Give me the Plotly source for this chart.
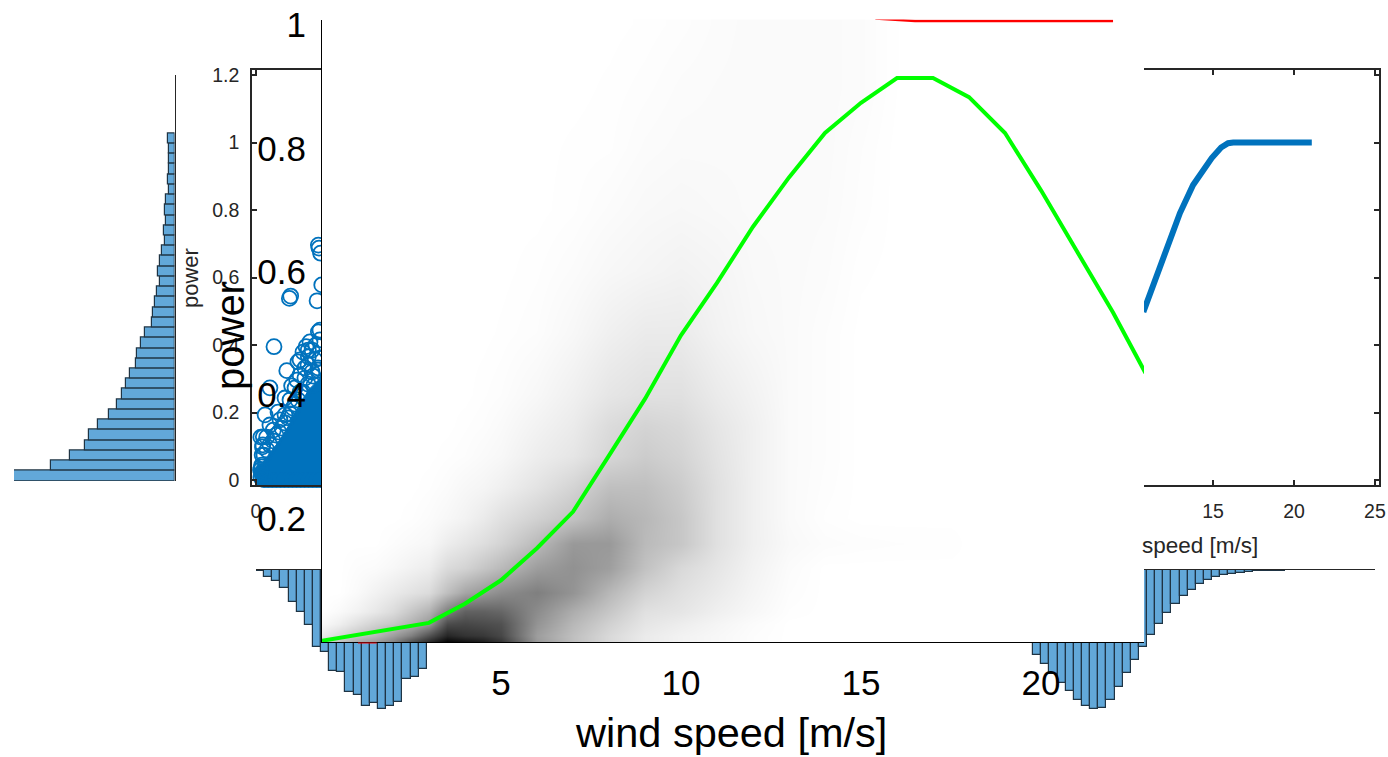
import plotly.graph_objects as go

W, H = 1388, 757
FONT = "Liberation Sans, Arial, sans-serif"
DARK = "#262626"
BLUE = "#0072BD"
BAR = "#62A8D9"
BAR_EDGE = "#1F3444"

# ---- data -----------------------------------------------------------------
green_speed = [0.03, 1, 2, 3, 4, 5, 6, 7, 8, 9, 10, 11, 12, 13, 14, 15, 16, 17, 18, 19, 20, 21, 22, 22.9]
green_power = [0.002, 0.011, 0.021, 0.031, 0.062, 0.1, 0.152, 0.211, 0.302, 0.394, 0.497, 0.582, 0.673, 0.753,
               0.825, 0.874, 0.914, 0.914, 0.883, 0.825, 0.732, 0.632, 0.534, 0.436]
red_speed = [15.4, 16.5, 22.0]
red_power = [1.0105, 1.0065, 1.0065]
red_low_speed = [1.03, 1.55]

heat_speed = [0, 0.5, 1, 1.5, 2, 2.5, 3, 3.5, 4, 4.5, 5, 6, 7, 8, 9, 10, 11, 12, 13, 14, 15, 16, 17.5, 18]
heat_power = [0, 0.01, 0.03, 0.05, 0.08, 0.12, 0.16, 0.2, 0.25, 0.3, 0.35, 0.4, 0.5, 0.6, 0.7, 0.8, 0.9, 1.0]
# darkness (percent), one list per wind speed, from low power to high power
heat_by_speed = [
    [18, 8, 2, 0, 0, 0, 0, 0, 0, 0, 0, 0, 0, 0, 0, 0, 0, 0],
    [25, 15, 6, 2, 0, 0, 0, 0, 0, 0, 0, 0, 0, 0, 0, 0, 0, 0],
    [35, 22, 12, 5, 2, 1, 0, 0, 0, 0, 0, 0, 0, 0, 0, 0, 0, 0],
    [40, 28, 18, 9, 5, 1.5, 0, 0, 0, 0, 0, 0, 0, 0, 0, 0, 0, 0],
    [50, 38, 22, 14, 8, 3, 1, 0, 0, 0, 0, 0, 0, 0, 0, 0, 0, 0],
    [70, 50, 30, 22, 11, 5, 2, 0.5, 0, 0, 0, 0, 0, 0, 0, 0, 0, 0],
    [85, 68, 40, 30, 14, 7, 3, 1.5, 0.5, 0, 0, 0, 0, 0, 0, 0, 0, 0],
    [100, 85, 70, 50, 25, 14, 7, 3, 1.5, 0.5, 0, 0, 0, 0, 0, 0, 0, 0],
    [95, 80, 72, 62, 35, 17, 10, 5, 3, 1, 0.5, 0, 0, 0, 0, 0, 0, 0],
    [90, 78, 70, 62, 40, 22, 13, 8, 4, 2, 1, 0.5, 0, 0, 0, 0, 0, 0],
    [80, 72, 68, 60, 45, 27, 17, 12, 6, 3, 2, 1, 0.3, 0, 0, 0, 0, 0],
    [40, 38, 42, 45, 50, 38, 27, 18, 11, 7, 5, 3, 1, 0.5, 0, 0, 0, 0],
    [25, 25, 28, 32, 42, 43, 40, 24, 17, 10, 8, 6, 3, 1.5, 0.5, 0.3, 0, 0],
    [15, 15, 18, 22, 28, 38, 40, 32, 25, 16, 14, 10, 6, 3, 1.5, 0.5, 0.3, 0],
    [8, 8, 10, 12, 17, 24, 27, 28, 25, 20, 17, 12, 8, 4, 2.5, 1.5, 0.8, 0.3],
    [5, 5, 7, 10, 12, 15, 22, 22, 20, 17, 15, 12, 8, 5, 3, 2, 1.5, 0.8],
    [3, 3, 4, 6, 8, 10, 12, 12, 12, 11, 10, 8, 5, 4, 2.5, 2, 1.8, 1.5],
    [1, 1, 1.5, 3, 4, 5, 6, 6, 6, 6, 6, 5, 3, 2.5, 2, 2, 2, 2],
    [0, 0, 0, 0.5, 1, 1.5, 2.5, 2, 2, 2, 2, 2, 2, 2, 2, 2, 2, 2],
    [0, 0, 0, 0, 0, 0, 1.2, 0.5, 0.8, 1, 1, 1, 1, 1.5, 1.8, 2, 2, 2],
    [0, 0, 0, 0, 0, 0, 0.8, 0, 0, 0, 0, 0, 0, 0.3, 0.8, 1, 1.5, 1.5],
    [0, 0, 0, 0, 0, 0, 0.6, 0, 0, 0, 0, 0, 0, 0, 0, 0, 0.2, 0.2],
    [0, 0, 0, 0, 0, 0, 0.5, 0, 0, 0, 0, 0, 0, 0, 0, 0, 0, 0],
    [0, 0, 0, 0, 0, 0, 0, 0, 0, 0, 0, 0, 0, 0, 0, 0, 0, 0],
]
heat_z = [list(row) for row in zip(*heat_by_speed)]

# blue power curve (right piece of the scatter axes)
curve_speed = [10.7, 12.14, 12.96, 13.77, 14.92, 15.5, 15.93, 16.25, 21.1]
curve_power = [0.498, 0.691, 0.791, 0.874, 0.954, 0.985, 0.998, 1.0, 1.0]

# scatter points, left piece
scatter_speed = [2.06, 2.14, 1.11, 3.77, 3.89, 3.99, 3.85, 3.09, 3.23, 2.9, 3.85, 3.95, 4.06, 4.12, 1.9, 2.51, 2.2,
                 3.02, 0.86, 0.56, 1.48, 0.45, 0.3, 0.66, 1.07, 1.79, 0.35, 0.35, 3.23, 3.64, 2.59, 3.46, 2.72, 3.33,
                 3.95, 0.86, 1.23, 1.6, 1.98, 2.28, 2.59, 2.9, 3.21, 3.52, 3.83, 0.49, 0.68, 1.05, 1.42, 1.79, 2.1,
                 2.41, 0.35, 0.3, 0.4, 0.28, 2.72, 3.46, 3.83, 3.02, 2.41, 1.79, 1.36, 0.86, 2.1, 3.58, 3.95, 3.7,
                 3.21, 2.72, 0.42, 0.38, 0.4]
scatter_power = [0.538, 0.545, 0.395, 0.531, 0.687, 0.672, 0.696, 0.395, 0.385, 0.379, 0.439, 0.444, 0.578, 0.484,
                 0.324, 0.296, 0.279, 0.332, 0.273, 0.193, 0.178, 0.128, 0.127, 0.127, 0.148, 0.193, 0.039, 0.044,
                 0.365, 0.356, 0.35, 0.32, 0.26, 0.409, 0.361, 0.104, 0.133, 0.154, 0.184, 0.213, 0.237, 0.26, 0.284,
                 0.308, 0.326, 0.074, 0.089, 0.116, 0.142, 0.169, 0.196, 0.225, 0.02, 0.008, 0.015, 0.03, 0.356,
                 0.385, 0.332, 0.302, 0.273, 0.243, 0.201, 0.163, 0.237, 0.281, 0.415, 0.4, 0.341, 0.311, 0.104,
                 0.074, 0.098]
cloud_speed = [0.0, 0.0, 0.1, 0.4, 0.7, 1.0, 1.5, 2.0, 2.4, 2.9, 3.3, 4.15, 4.15, 0.0]
cloud_power = [-0.015, 0.03, 0.05, 0.05, 0.07, 0.09, 0.12, 0.16, 0.2, 0.24, 0.27, 0.31, -0.015, -0.015]
floor_speed = [0.5, 0.75, 1, 1.25, 1.5, 1.75, 2, 2.25, 2.5, 2.75, 3, 3.25, 3.5, 3.75, 4]
floor_power = [0] * len(floor_speed)

# histogram of power (bar lengths, counts)
power_hist = [160.7, 123.7, 104.7, 90, 86, 76.3, 65.7, 57.7, 52.3, 49, 44.3, 38.3, 37.7, 34, 29.3, 23, 21.7, 19.7,
              18, 15, 16.7, 15, 12.7, 10, 10.3, 8.3, 9.7, 9, 5.3, 6.7, 5.7, 5.3, 6, 7]
POWER_BIN = 0.0302

# histograms of wind speed (bar lengths, counts)
speed_hist_left = [0.8, 6.7, 11, 18.3, 32.3, 42.3, 55.3, 77.3, 82.3, 100.7, 102.3, 122.3, 124.7, 136.3, 133.3, 138.7,
                   136, 132, 108.7, 107.3, 99.3, 72]
speed_hist_right = [84.7, 94.3, 104.3, 112.7, 120.7, 130.3, 136, 139, 137.7, 130, 117, 103.3, 90.3, 76.7, 65, 53.7,
                    43.3, 34.3, 26, 19.7, 14, 10, 7, 5.3, 4, 2.7, 2, 1.3, 1, 0.6, 0.5, 0.4, 0.3, 0.2, 0.1]
SPEED_BIN = 0.502
LEFT_START = 0.0
RIGHT_START = 3.9

main_xticks = [5, 10, 15, 20]
main_yticks = [0.2, 0.4, 0.6, 0.8, 1]
small_yticks = [0, 0.2, 0.4, 0.6, 0.8, 1, 1.2]
right_xticks = [15, 20, 25]
left_xticks = [0]


def dx(a, b):
    return [a / W, b / W]


def dy(top, bottom):
    return [1 - bottom / H, 1 - top / H]


left_centers = [LEFT_START + (i + 0.5) * SPEED_BIN for i in range(len(speed_hist_left))]
right_centers = [RIGHT_START + (i + 0.5) * SPEED_BIN for i in range(len(speed_hist_right))]
power_centers = [(i + 0.5) * POWER_BIN for i in range(len(power_hist))]

fig = go.Figure()

# left scatter piece (x, y)
fig.add_trace(go.Scatter(x=cloud_speed, y=cloud_power, mode="lines", fill="toself", fillcolor=BLUE,
                         line=dict(color=BLUE, width=1), xaxis="x", yaxis="y"))
fig.add_trace(go.Scatter(x=floor_speed, y=floor_power, mode="markers", cliponaxis=False,
                         marker=dict(size=16, color=BLUE), xaxis="x", yaxis="y"))
fig.add_trace(go.Scatter(x=scatter_speed, y=scatter_power, mode="markers", cliponaxis=False,
                         marker=dict(size=15, color="rgba(0,0,0,0)", line=dict(color=BLUE, width=1.8)),
                         xaxis="x", yaxis="y"))
# right scatter piece
fig.add_trace(go.Scatter(x=curve_speed, y=curve_power, mode="lines", line=dict(color=BLUE, width=6),
                         xaxis="x2", yaxis="y2"))
# power histogram
fig.add_trace(go.Bar(y=power_centers, x=power_hist, orientation="h", width=POWER_BIN, marker=dict(
    color=BAR, line=dict(color=BAR_EDGE, width=1.2)), xaxis="x3", yaxis="y3"))
# wind speed histogram pieces
for xa, ya, xs, ys in [("x4", "y4", left_centers, speed_hist_left), ("x5", "y5", left_centers, speed_hist_left),
                       ("x6", "y6", right_centers, speed_hist_right), ("x7", "y7", right_centers, speed_hist_right)]:
    fig.add_trace(go.Bar(x=xs, y=ys, width=SPEED_BIN, marker=dict(color=BAR, line=dict(color=BAR_EDGE, width=1.2)),
                         xaxis=xa, yaxis=ya))
# main axes
fig.add_trace(go.Heatmap(x=heat_speed, y=heat_power, z=heat_z, zmin=0, zmax=100, zsmooth="best", showscale=False,
                         colorscale=[[0, "#ffffff"], [1, "#000000"]], xaxis="x8", yaxis="y8"))
fig.add_trace(go.Scatter(x=red_speed, y=red_power, mode="lines", line=dict(color="#FF0000", width=2.5),
                         xaxis="x8", yaxis="y8"))
fig.add_trace(go.Scatter(x=green_speed, y=green_power, mode="lines", line=dict(color="#00FF00", width=4),
                         xaxis="x8", yaxis="y8"))

small_tick = dict(ticks="inside", ticklen=5, tickwidth=1.5, tickcolor=DARK, linecolor=DARK, linewidth=1.5,
                  showline=True, showgrid=False, zeroline=False, automargin=False,
                  tickfont=dict(family=FONT, size=19.5, color=DARK))
hidden = dict(visible=False, fixedrange=True, automargin=False)

PX = 16.2
layout = dict(
    template="none",
    width=W, height=H, margin=dict(l=0, r=0, t=0, b=0, pad=0, autoexpand=False), paper_bgcolor="white",
    plot_bgcolor="white", showlegend=False, barmode="overlay", bargap=0,
    xaxis=dict(domain=dx(252, 322), range=[-4 / PX, 66 / PX], tickvals=left_xticks, mirror="ticks",
               ticklabelstandoff=8, **small_tick),
    yaxis=dict(domain=dy(70, 485), range=[-0.0148, 1.2148], tickvals=small_yticks, ticklabelstandoff=7, **small_tick),
    xaxis2=dict(domain=dx(1144, 1379), range=[10.74, 25.25], tickvals=right_xticks, mirror="ticks",
                ticklabelstandoff=8, **small_tick),
    yaxis2=dict(domain=dy(70, 485), range=[-0.0148, 1.2148], tickvals=small_yticks, side="right", anchor="x2",
                showticklabels=False, **{k: v for k, v in small_tick.items() if k != "tickfont"}),
    xaxis3=dict(domain=dx(14, 174.5), range=[160.5, 0], anchor="y3", **hidden),
    yaxis3=dict(domain=dy(74.5, 481), range=[0, 1.2], anchor="x3", side="right", showline=True, linecolor=DARK,
                linewidth=1, showticklabels=False, ticks="", showgrid=False, zeroline=False, automargin=False),
    xaxis4=dict(domain=dx(256, 322), range=[0, 66 / PX], anchor="y4", side="top", showline=True, linecolor=DARK,
                linewidth=1, ticks="", showticklabels=False, showgrid=False, zeroline=False, automargin=False),
    yaxis4=dict(domain=dy(570, 712), range=[142, 0], anchor="x4", **hidden),
    xaxis5=dict(domain=dx(322, 436), range=[66 / PX, 180 / PX], anchor="y5", **hidden),
    yaxis5=dict(domain=dy(642, 712), range=[142, 72], anchor="x5", **hidden),
    xaxis6=dict(domain=dx(1030, 1144), range=[(1030 - 970) / PX, (1144 - 970) / PX], anchor="y6", **hidden),
    yaxis6=dict(domain=dy(642, 712), range=[142, 72], anchor="x6", **hidden),
    xaxis7=dict(domain=dx(1144, 1375), range=[(1144 - 970) / PX, 25], anchor="y7", side="top", showline=True,
                linecolor=DARK, linewidth=1, ticks="", showticklabels=False, showgrid=False, zeroline=False,
                automargin=False),
    yaxis7=dict(domain=dy(570, 712), range=[142, 0], anchor="x7", **hidden),
    xaxis8=dict(domain=dx(322, 1144), range=[0.03, 22.86], anchor="y8", tickvals=main_xticks, showline=True,
                linecolor="black", linewidth=1, ticks="", showgrid=False, zeroline=False, ticklabelstandoff=10,
                automargin=False, tickfont=dict(family=FONT, size=35, color="black")),
    yaxis8=dict(domain=dy(19.5, 642), range=[0, 1.0089], anchor="x8", tickvals=main_yticks, showline=True,
                linecolor="black", linewidth=1, ticks="", showgrid=False, zeroline=False, ticklabelstandoff=8,
                automargin=False, tickfont=dict(family=FONT, size=35, color="black")),
    annotations=[
        dict(text="power", x=190 / W, y=1 - 278 / H, xref="paper", yref="paper", showarrow=False, textangle=-90,
             xanchor="center", yanchor="middle", font=dict(family=FONT, size=22, color=DARK)),
        dict(text="speed [m/s]", x=1260 / W, y=1 - 545 / H, xref="paper", yref="paper", xanchor="right",
             yanchor="middle", showarrow=False, font=dict(family=FONT, size=22.5, color=DARK)),
        dict(text="power", x=230 / W, y=1 - 336 / H, xref="paper", yref="paper", showarrow=False, textangle=-90,
             xanchor="center", yanchor="middle", font=dict(family=FONT, size=40, color="black")),
        dict(text="wind speed [m/s]", x=731 / W, y=1 - 732 / H, xref="paper", yref="paper", showarrow=False,
             xanchor="center", yanchor="middle", font=dict(family=FONT, size=41.5, color="black")),
    ],
    shapes=[
        dict(type="line", xref="x8", yref="paper", x0=red_low_speed[0], x1=red_low_speed[1], y0=1 - 643 / H,
             y1=1 - 643 / H, line=dict(color="#FF0000", width=1), layer="above"),
    ],
)
fig.update_layout(**layout)
fig.write_html("out.html", config=dict(displayModeBar=False),
               post_script="document.body.style.margin='0';document.documentElement.style.overflow='hidden';")
